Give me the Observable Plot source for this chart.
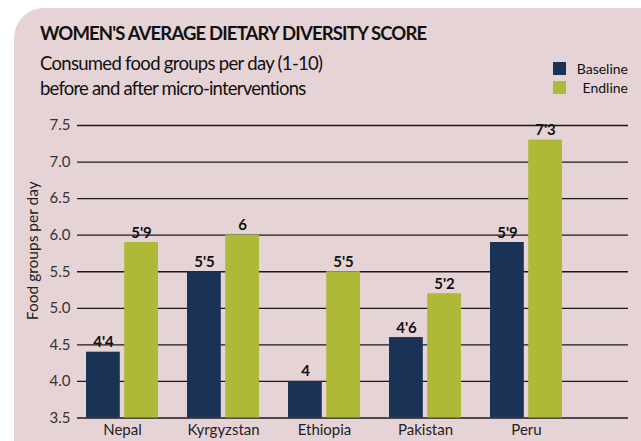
<!DOCTYPE html>
<html>
<head>
<meta charset="utf-8">
<script src="https://cdn.jsdelivr.net/npm/d3@7"></script>
<script src="https://cdn.jsdelivr.net/npm/@observablehq/plot@0.6"></script>
<style>
  html, body { margin: 0; padding: 0; background: #ffffff; }
  #wrap { position: relative; width: 641px; height: 441px; overflow: hidden; font-family: Lato, "Open Sans", sans-serif; }
  #bg { position: absolute; left: 14px; top: 8px; width: 660px; height: 470px; background: #e6d3d6; border-radius: 30px; }
  #header { position: absolute; left: 0; top: 0; }
  #chart { position: absolute; left: 0; top: 100px; }
</style>
</head>
<body>
<div id="wrap">
  <div id="bg"></div>
  <div id="header"></div>
  <div id="chart"></div>
</div>
<script>
const title = "WOMEN'S AVERAGE DIETARY DIVERSITY SCORE";
const subtitle1 = "Consumed food groups per day (1-10)";
const subtitle2 = "before and after micro-interventions";
const yLabel = "Food groups per day";
const series = ["Baseline", "Endline"];
const seriesColors = ["#193256", "#aeb938"];
const countries = ["Nepal", "Kyrgyzstan", "Ethiopia", "Pakistan", "Peru"];
const baseline = [4.4, 5.5, 4.0, 4.6, 5.9];
const endline = [5.9, 6.0, 5.5, 5.2, 7.3];
const yTicks = [3.5, 4.0, 4.5, 5.0, 5.5, 6.0, 6.5, 7.0, 7.5];

const baseData = countries.map((c, i) => ({country: c, value: baseline[i]}));
const endData = countries.map((c, i) => ({country: c, value: endline[i]}));
const fmt = v => String(v).replace(".", "'");

// Header (title, subtitle, legend)
const hdr = d3.select("#header").append("svg").attr("width", 641).attr("height", 100)
  .style("font-family", "Lato, 'Open Sans', sans-serif");
hdr.append("text").attr("x", 40).attr("y", 40).attr("font-size", 18.5).attr("font-weight", "bold")
  .attr("letter-spacing", -0.85).attr("fill", "#111").text(title);
hdr.append("text").attr("x", 40).attr("y", 70).attr("font-size", 18.5).attr("letter-spacing", -0.7)
  .attr("fill", "#111").text(subtitle1);
hdr.append("text").attr("x", 40).attr("y", 95).attr("font-size", 18.5).attr("letter-spacing", -0.8)
  .attr("fill", "#111").text(subtitle2);
series.forEach((s, i) => {
  const y0 = 62 + i * 19;
  hdr.append("rect").attr("x", 553).attr("y", y0).attr("width", 13).attr("height", 13).attr("fill", seriesColors[i]);
  hdr.append("text").attr("x", 628).attr("y", y0 + 11.5).attr("text-anchor", "end")
    .attr("font-size", 14).attr("fill", "#111").text(s);
});

const chart = Plot.plot({
  width: 641,
  height: 341,
  marginTop: 25,
  marginBottom: 23.5,
  marginLeft: 77,
  marginRight: 13,
  style: {background: "transparent", fontFamily: "Lato, 'Open Sans', sans-serif"},
  x: {type: "band", domain: countries, range: [77, 570], paddingInner: 0.29, paddingOuter: 0.062, label: null},
  y: {domain: [3.5, 7.5], label: null},
  marks: [
    Plot.ruleY(yTicks, {stroke: "#1a1a1a", strokeWidth: 1.3}),
    Plot.barY(baseData, {x: "country", y1: 3.5, y2: "value", fill: seriesColors[0], insetRight: 38.2}),
    Plot.barY(endData, {x: "country", y1: 3.5, y2: "value", fill: seriesColors[1], insetLeft: 38.2}),
    Plot.text(baseData, {x: "country", y: "value", text: d => fmt(d.value), dx: -19, dy: -5, lineAnchor: "bottom", fontWeight: "bold", fontSize: 15, fill: "#111"}),
    Plot.text(endData, {x: "country", y: "value", text: d => fmt(d.value), dx: 19, dy: -5, lineAnchor: "bottom", fontWeight: "bold", fontSize: 15, fill: "#111"}),
    Plot.axisY(yTicks, {tickSize: 0, tickPadding: 7, tickFormat: d => d.toFixed(1), fontSize: 15, fill: "#333", label: null}),
    Plot.axisX({tickSize: 0, tickPadding: 6, fontSize: 15, fill: "#222", label: null}),
    Plot.text([yLabel], {frameAnchor: "left", textAnchor: "middle", rotate: -90, dx: -44, dy: -21, fontSize: 15.5, fill: "#222"})
  ]
});
document.getElementById("chart").appendChild(chart);
</script>
</body>
</html>
